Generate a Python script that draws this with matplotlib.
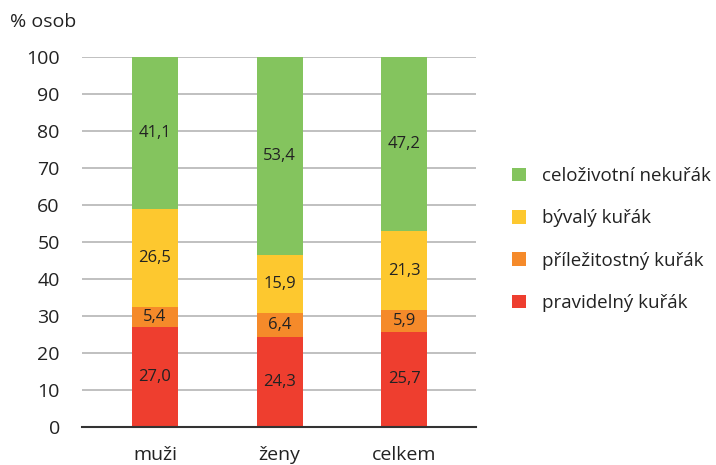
import matplotlib
matplotlib.use("Agg")
import matplotlib.pyplot as plt
from matplotlib.patches import Patch

categories = ["muži", "ženy", "celkem"]
series_names = ["pravidelný kuřák", "příležitostný kuřák", "bývalý kuřák", "celoživotní nekuřák"]
pravidelny = [27.0, 24.3, 25.7]
prilezitostny = [5.4, 6.4, 5.9]
byvaly = [26.5, 15.9, 21.3]
nekurak = [41.1, 53.4, 47.2]
yticks = [0, 10, 20, 30, 40, 50, 60, 70, 80, 90, 100]

colors = ["#ee3e2f", "#f58a2a", "#fdc82f", "#84c45e"]
series = [pravidelny, prilezitostny, byvaly, nekurak]

plt.rcParams["font.family"] = ["Open Sans", "DejaVu Sans"]
text_color = "#222222"

fig = plt.figure(figsize=(7.16, 4.65), dpi=100)
ax = fig.add_axes([0.1145, 0.0817, 0.5505, 0.7953])

x = list(range(len(categories)))
bottoms = [0.0] * len(categories)
for vals, col in zip(series, colors):
    bars = ax.bar(x, vals, width=0.37, bottom=bottoms, color=col, zorder=3)
    for b, v, btm in zip(bars, vals, bottoms):
        ax.text(b.get_x() + b.get_width() / 2, btm + v / 2, f"{v:.1f}".replace(".", ","),
                ha="center", va="center", fontsize=12, color=text_color, zorder=4)
    bottoms = [bt + v for bt, v in zip(bottoms, vals)]

ax.set_xlim(-0.586, 2.578)
ax.set_ylim(0, 100)
ax.set_yticks(yticks)
ax.set_xticks(x)
ax.set_xticklabels(categories)
ax.tick_params(axis="both", length=0, labelsize=14, colors=text_color)
ax.tick_params(axis="y", pad=16)
ax.tick_params(axis="x", pad=14)
ax.yaxis.grid(True, color="#bbbbbb", linewidth=1.3, zorder=0)
for s in ["top", "right", "left"]:
    ax.spines[s].set_visible(False)
ax.spines["bottom"].set_color("#333333")
ax.spines["bottom"].set_linewidth(1.5)
ax.spines["bottom"].set_zorder(5)

fig.text(0.014, 0.953, "% osob", fontsize=14, color=text_color, va="center", ha="left")

handles = [Patch(facecolor=c, label=n) for c, n in zip(colors, series_names)][::-1]
fig.legend(handles=handles, loc="center left", bbox_to_anchor=(0.692, 0.485),
           frameon=False, fontsize=13.5, handlelength=0.75, handleheight=0.75,
           handletextpad=0.85, labelspacing=1.3, labelcolor=text_color)

fig.savefig("out.png", dpi=100)
